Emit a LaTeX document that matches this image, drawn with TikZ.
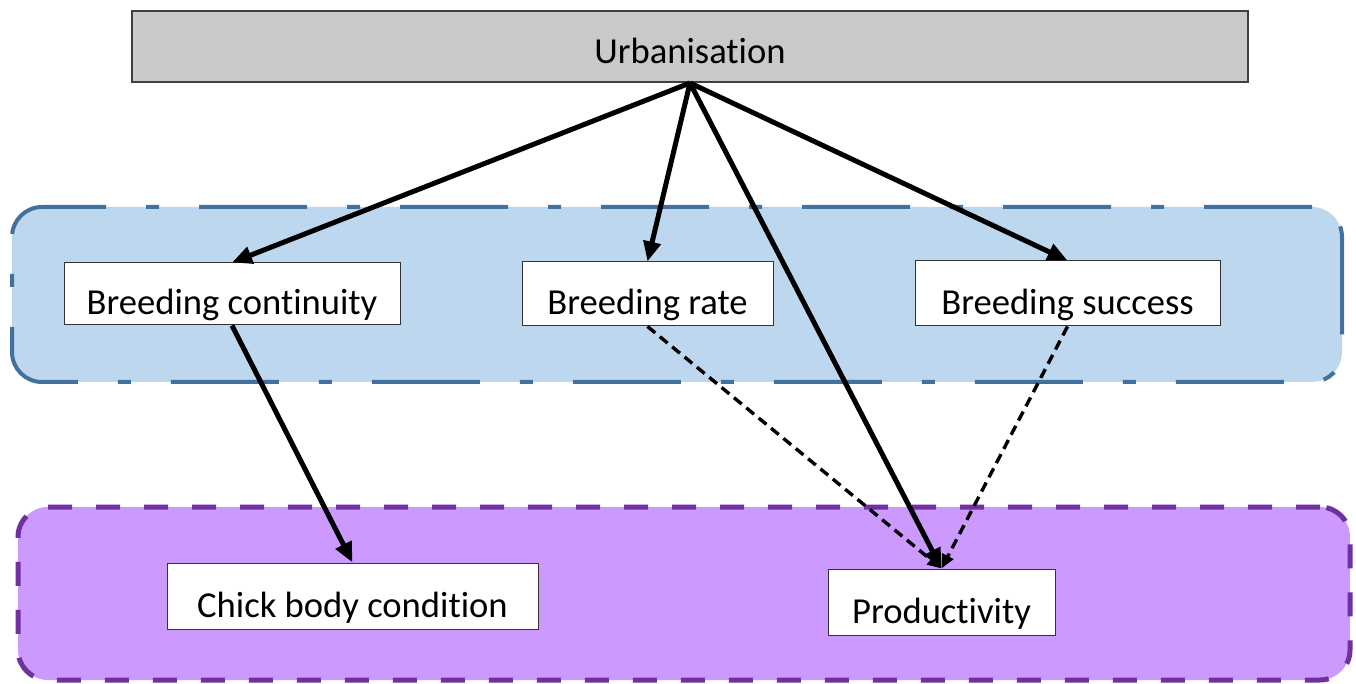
\documentclass[tikz,border=0pt]{standalone}
\usepackage{fontspec}
\setmainfont[Ligatures=NoCommon]{Carlito}
\usetikzlibrary{arrows.meta}
\definecolor{urbgray}{HTML}{C9C9C9}
\definecolor{bluefill}{HTML}{BDD7EE}
\definecolor{blueline}{HTML}{41719C}
\definecolor{purplefill}{HTML}{CC99FF}
\definecolor{purpleline}{HTML}{7030A0}
\tikzstyle{driver} = [
    rectangle, inner sep=0pt, text height=21.5pt, text depth=4pt,
    draw=black!75, line width=1pt, fill=urbgray
]
\tikzstyle{trait} = [
    rectangle, inner sep=0pt, text height=25pt, text depth=4pt,
    draw=black!80, line width=0.5pt, fill=white
]
\tikzstyle{bluegroup} = [
    rectangle, rounded corners=15pt, fill=bluefill, draw=blueline, line width=2pt,
    dash pattern=on 54pt off 20pt on 6.5pt off 20pt
]
\tikzstyle{purplegroup} = [
    rectangle, rounded corners=15pt, fill=purplefill, draw=purpleline, line width=2.5pt,
    dash pattern=on 12pt off 12pt
]
\tikzstyle{arrow} = [line width=2.5pt, -{Triangle[length=10pt,width=8.5pt]}]
\tikzstyle{dasharrow} = [line width=1.7pt, dash pattern=on 5pt off 3pt, -{Triangle[length=7pt,width=6pt]}]

\begin{document}
\begin{tikzpicture}[x=0.5pt, y=-0.5pt, font=\fontsize{18.3}{22}\selectfont]
\useasboundingbox (0,0) rectangle (1356,684);

% Grupos
\node (upper) [bluegroup, minimum width=665pt, minimum height=87.5pt] at (677,294.5) {};
\node (lower) [purplegroup, minimum width=666pt, minimum height=86.5pt] at (684,593.5) {};

% Nodos
\node (urb)   [driver, minimum width=558pt, minimum height=35.5pt] at (690,46.5) {Urbanisation};
\node (cont)  [trait, minimum width=168pt, minimum height=31pt]   at (232,294)    {Breeding continuity};
\node (rate)  [trait, minimum width=125.5pt, minimum height=32pt] at (647.5,294)  {Breeding rate};
\node (succ)  [trait, minimum width=152.5pt, minimum height=32.5pt] at (1067.5,293.5) {Breeding success};
\node (chick) [trait, minimum width=185.5pt, minimum height=33pt] at (352.5,596)  {Chick body condition\hspace{7pt}};
\node (prod)  [trait, minimum width=113.5pt, minimum height=33pt] at (941.5,602)  {Productivity};

% Flechas
\draw [arrow] (urb.south) -- (cont.north);
\draw [arrow] (urb.south) -- (rate.north);
\draw [arrow] (urb.south) -- (succ.north);
\draw [arrow] (urb.south) -- (prod.north);
\draw [arrow] (cont.south) -- (chick.north);
\draw [dasharrow] (rate.south) -- (prod.north);
\draw [dasharrow] (succ.south) -- (prod.north);

\end{tikzpicture}
\end{document}
